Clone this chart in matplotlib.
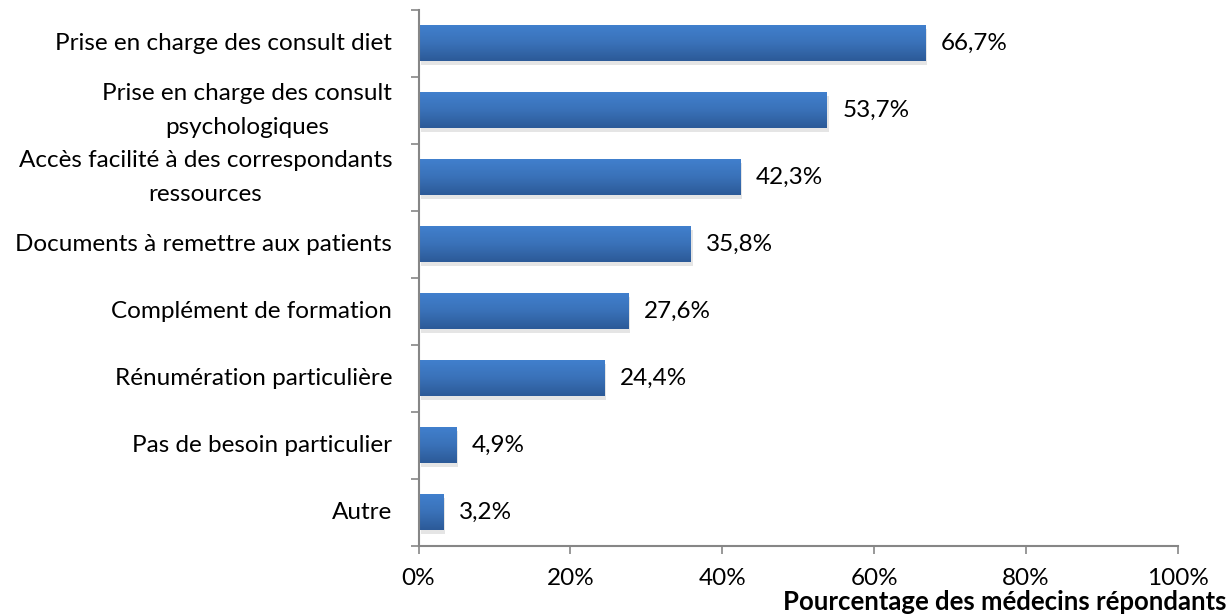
import numpy as np
import matplotlib.pyplot as plt
from matplotlib.patches import Rectangle
from matplotlib.colors import LinearSegmentedColormap

categories = [
    "Prise en charge des consult diet",
    "Prise en charge des consult\npsychologiques",
    "Accès facilité à des correspondants\nressources",
    "Documents à remettre aux patients",
    "Complément de formation",
    "Rénumération particulière",
    "Pas de besoin particulier",
    "Autre",
]
values = [66.7, 53.7, 42.3, 35.8, 27.6, 24.4, 4.9, 3.2]
labels = ["66,7%", "53,7%", "42,3%", "35,8%", "27,6%", "24,4%", "4,9%", "3,2%"]
xticks = [0, 20, 40, 60, 80, 100]

plt.rcParams['font.family'] = ['Lato', 'DejaVu Sans']
FS = 17.5

fig = plt.figure(figsize=(12.31, 6.14), dpi=100)
ax = fig.add_axes([0.340, 0.111, 0.617, 0.873])

n = len(categories)
ypos = np.arange(n)[::-1]
bh = 0.54

# vertical gradient for the bars (light top, dark bottom)
grad = np.linspace(0, 1, 64).reshape(-1, 1)
cmap = LinearSegmentedColormap.from_list("bar", ["#4180CE", "#3A72B9", "#2C5A98"])

for y, v, lab in zip(ypos, values, labels):
    ax.add_patch(Rectangle((0.3, y - bh / 2 - 0.06), v, bh, color="#000000", alpha=0.10, lw=0, zorder=1))
    rect = Rectangle((0, y - bh / 2), v, bh, facecolor="none", edgecolor="none", zorder=2)
    ax.add_patch(rect)
    im = ax.imshow(grad, cmap=cmap, aspect="auto", extent=(0, v, y - bh / 2, y + bh / 2),
                   origin="upper", zorder=2)
    im.set_clip_path(rect)
    ax.text(v + 2.1, y, lab, va="center", ha="left", fontsize=FS)

ax.set_xlim(0, 100)
ax.set_ylim(-0.5, n - 0.5)

ax.set_xticks(xticks)
ax.set_xticklabels([f"{t}%" for t in xticks], fontsize=FS)
ax.set_yticks(np.arange(n + 1) - 0.5)
ax.set_yticklabels([])
ax.set_yticks(ypos, minor=True)
ax.set_yticklabels(categories, minor=True, fontsize=FS, ha="right", va="center",
                   multialignment="center", linespacing=1.75)
ax.tick_params(axis="y", which="minor", length=0, pad=19)
ax.tick_params(axis="y", which="major", length=6, color="#868686", width=1.2)
ax.tick_params(axis="x", length=6, color="#868686", width=1.2, pad=10)

for s in ["top", "right"]:
    ax.spines[s].set_visible(False)
for s in ["left", "bottom"]:
    ax.spines[s].set_color("#868686")
    ax.spines[s].set_linewidth(1.5)

fig.text(0.996, 0.0, "Pourcentage des médecins répondants", ha="right", va="bottom",
         fontsize=18.5, fontweight="bold")

fig.savefig("out.png", dpi=100)
